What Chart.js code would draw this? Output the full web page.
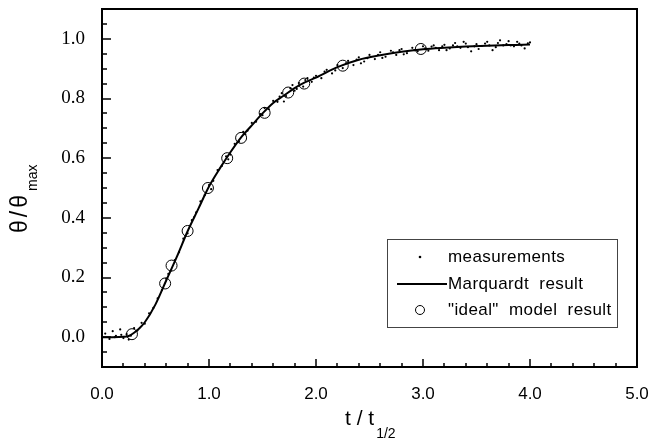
<!DOCTYPE html>
<html><head><meta charset="utf-8">
<script src="https://cdn.jsdelivr.net/npm/chart.js@4.4.0/dist/chart.umd.min.js"></script>
<style>html,body{margin:0;padding:0;background:#fff}#wrap{width:653px;height:443px;position:relative}</style>
</head><body><div id="wrap"><canvas id="c" width="653" height="443"></canvas></div>
<script>
// Marquardt fitted curve
const lineX = [0,0.1,0.2,0.25,0.3,0.35,0.4,0.5,0.6,0.7,0.8,0.9,1.0,1.1,1.2,1.3,1.4,1.5,1.6,1.7,1.8,1.9,2.0,2.2,2.4,2.6,2.8,3.0,3.2,3.4,3.6,3.8,4.0];
const lineY = [0,0,0.001,0.004,0.015,0.03,0.05,0.11,0.19,0.27,0.355,0.43,0.505,0.565,0.62,0.67,0.71,0.75,0.785,0.81,0.835,0.855,0.87,0.905,0.93,0.945,0.957,0.965,0.97,0.974,0.977,0.979,0.981];
// "ideal" model result (circles)
const idealX = [0.28,0.59,0.65,0.80,0.99,1.17,1.30,1.52,1.74,1.89,2.25,2.98];
const idealY = [0.01,0.18,0.24,0.356,0.50,0.60,0.668,0.752,0.82,0.85,0.91,0.966];
// measurements (dots)
const measX = [0.03,0.07,0.10,0.13,0.17,0.20,0.23,0.27,0.30,0.33,0.37,0.40,0.44,0.48,0.52,0.56,0.60,0.64,0.68,0.72,0.76,0.80,0.84,0.88,0.92,0.96,1.00,1.04,1.08,1.12,1.16,1.20,1.24,1.28,1.32,1.36,1.40,1.44,1.48,1.52,1.56,1.60,1.64,1.68,1.72,1.76,1.80,1.84,1.88,1.92,1.96,2.00,2.05,2.10,2.15,2.20,2.25,2.30,2.35,2.40,2.45,2.50,2.55,2.60,2.65,2.70,2.75,2.80,2.85,2.90,2.95,3.00,3.05,3.10,3.15,3.20,3.25,3.30,3.35,3.40,3.45,3.50,3.55,3.60,3.65,3.70,3.75,3.80,3.85,3.90,3.95,4.00,
  0.12,0.18,0.25,0.62,0.86,1.02,1.18,1.34,1.50,1.66,1.70,1.78,1.82,1.90,1.98,2.08,2.18,2.28,2.38,2.42,2.48,2.58,2.62,2.72,2.78,2.82,2.92,3.02,3.08,3.12,3.18,3.22,3.28,3.32,3.38,3.42,3.48,3.52,3.58,3.62,3.68,3.72,3.78,3.82,3.88,3.92,3.98];
const measY = [0.012,-0.006,0.020,0.004,0.026,-0.003,0.010,0.005,0.030,0.022,0.048,0.045,0.080,0.098,0.130,0.158,0.196,0.222,0.258,0.285,0.330,0.348,0.392,0.418,0.455,0.476,0.510,0.524,0.560,0.574,0.606,0.612,0.648,0.655,0.688,0.692,0.718,0.722,0.748,0.768,0.764,0.792,0.789,0.818,0.808,0.834,0.826,0.852,0.840,0.868,0.856,0.876,0.868,0.896,0.884,0.912,0.902,0.926,0.912,0.938,0.924,0.946,0.932,0.955,0.940,0.960,0.946,0.966,0.952,0.970,0.958,0.975,0.960,0.978,0.962,0.980,0.968,0.986,0.970,0.984,0.958,0.982,0.976,0.990,0.962,0.986,0.978,0.992,0.975,0.984,0.968,0.988,
  0.000,0.008,-0.008,0.212,0.402,0.496,0.596,0.680,0.744,0.806,0.790,0.845,0.832,0.862,0.870,0.890,0.894,0.918,0.930,0.918,0.935,0.946,0.936,0.955,0.962,0.948,0.962,0.968,0.974,0.970,0.975,0.962,0.978,0.975,0.990,0.972,0.975,0.966,0.984,0.978,0.972,0.995,0.982,0.978,0.990,0.978,0.985];
// axes
const xTickValues = [0,1,2,3,4,5];
const yTickValues = [0,0.2,0.4,0.6,0.8,1.0];
const xRange = [0,5];
const yRange = [-0.1,1.1];
const xMinorStep = 0.2;
const yMinorStep = 0.05;
const legendLabels = ['measurements','Marquardt  result','"ideal"  model  result'];
const xTitle = ['t / t','1/2'];
const yTitle = ['θ/θ','max'];

const pts = (xs, ys) => xs.map((x, i) => ({x, y: ys[i]}));

const decor = {
  id: 'decor',
  afterDraw(chart) {
    const {ctx, chartArea: a, scales: {x, y}} = chart;
    ctx.save();
    ctx.strokeStyle = '#000';
    ctx.lineWidth = 2;
    ctx.strokeRect(a.left, a.top, a.right - a.left, a.bottom - a.top);
    // inward ticks
    ctx.lineWidth = 1.5;
    ctx.beginPath();
    const nx = Math.round((xRange[1] - xRange[0]) / xMinorStep);
    for (let i = 1; i < nx; i++) {
      const v = xRange[0] + i * xMinorStep;
      const major = Math.abs(v - Math.round(v)) < 1e-6;
      const px = Math.round(x.getPixelForValue(v));
      const len = major ? 8 : 4;
      ctx.moveTo(px, a.bottom); ctx.lineTo(px, a.bottom - len);
    }
    const ny = Math.round((yRange[1] - yRange[0]) / yMinorStep);
    for (let i = 1; i < ny; i++) {
      const v = yRange[0] + i * yMinorStep;
      const major = Math.abs(v * 5 - Math.round(v * 5)) < 1e-6;
      const py = Math.round(y.getPixelForValue(v));
      const len = major ? 9 : 5;
      ctx.moveTo(a.left, py); ctx.lineTo(a.left + len, py);
    }
    ctx.stroke();

    // legend
    ctx.lineWidth = 1;
    ctx.strokeStyle = '#444';
    ctx.strokeRect(387.5, 239.5, 230, 88);
    ctx.fillStyle = '#000';
    ctx.strokeStyle = '#000';
    ctx.font = '17px "Liberation Sans", Arial, sans-serif';
    if ('letterSpacing' in ctx) ctx.letterSpacing = '0.4px';
    ctx.textAlign = 'left';
    ctx.textBaseline = 'middle';
    const rows = [257, 284, 310];
    legendLabels.forEach((t, i) => ctx.fillText(t, 448, rows[i]));
    if ('letterSpacing' in ctx) ctx.letterSpacing = '0px';
    ctx.beginPath(); ctx.arc(420, rows[0], 1.3, 0, Math.PI * 2); ctx.fill();
    ctx.lineWidth = 2;
    ctx.beginPath(); ctx.moveTo(397, rows[1]); ctx.lineTo(447, rows[1]); ctx.stroke();
    ctx.lineWidth = 1;
    ctx.beginPath(); ctx.arc(420, rows[2], 4.5, 0, Math.PI * 2); ctx.stroke();

    // x title
    ctx.textBaseline = 'alphabetic';
    ctx.font = '21px "Liberation Sans", Arial, sans-serif';
    ctx.fillText(xTitle[0], 345, 425);
    const w0 = ctx.measureText(xTitle[0]).width;
    ctx.font = '14px "Liberation Sans", Arial, sans-serif';
    ctx.fillText(xTitle[1], 345 + w0 + 2, 438);

    // y title
    ctx.save();
    ctx.translate(27, 233);
    ctx.rotate(-Math.PI / 2);
    ctx.font = '23px "Liberation Sans", Arial, sans-serif';
    if ('letterSpacing' in ctx) ctx.letterSpacing = '3px';
    ctx.fillText(yTitle[0], 0, 0);
    const w1 = ctx.measureText(yTitle[0]).width;
    if ('letterSpacing' in ctx) ctx.letterSpacing = '0px';
    ctx.font = '14px "Liberation Sans", Arial, sans-serif';
    ctx.fillText(yTitle[1], w1 + 1, 10);
    ctx.restore();
    ctx.restore();
  }
};

function noPad(s) { s.paddingTop = 0; s.paddingBottom = 0; s.paddingLeft = 0; s.paddingRight = 0; }

new Chart(document.getElementById('c'), {
  type: 'scatter',
  data: {
    datasets: [
      {label: 'measurements', data: pts(measX, measY), pointRadius: 1.1, pointBackgroundColor: '#000', pointBorderWidth: 0, order: 1},
      {label: '"ideal" model result', data: pts(idealX, idealY), pointStyle: 'circle', pointRadius: 5.5, pointBorderColor: '#000', pointBorderWidth: 1, pointBackgroundColor: 'rgba(0,0,0,0)', order: 2},
      {label: 'Marquardt result', type: 'line', data: pts(lineX, lineY), borderColor: '#000', borderWidth: 2, pointRadius: 0, cubicInterpolationMode: 'monotone', fill: false, order: 3}
    ]
  },
  options: {
    responsive: false, animation: false, devicePixelRatio: 1,
    layout: {padding: {left: 0, right: 16, top: 9, bottom: 0}},
    plugins: {legend: {display: false}, tooltip: {enabled: false}},
    scales: {
      x: {
        type: 'linear', min: xRange[0], max: xRange[1],
        afterFit(s) { s.height = 76; noPad(s); },
        afterBuildTicks(s) { s.ticks = xTickValues.map(v => ({value: v})); },
        grid: {display: false, drawTicks: false}, border: {display: false},
        ticks: {callback: v => Number(v).toFixed(1), font: {family: '"Liberation Sans", Arial, sans-serif', size: 17}, color: '#000', padding: 17, maxRotation: 0, autoSkip: false}
      },
      y: {
        type: 'linear', min: yRange[0], max: yRange[1],
        afterFit(s) { s.width = 102; noPad(s); },
        afterBuildTicks(s) { s.ticks = yTickValues.map(v => ({value: v})); },
        grid: {display: false, drawTicks: false}, border: {display: false},
        ticks: {callback: v => Number(v).toFixed(1), font: {family: '"Liberation Serif", "Times New Roman", serif', size: 19}, color: '#000', padding: 17, autoSkip: false}
      }
    }
  },
  plugins: [decor]
});
</script></body></html>
